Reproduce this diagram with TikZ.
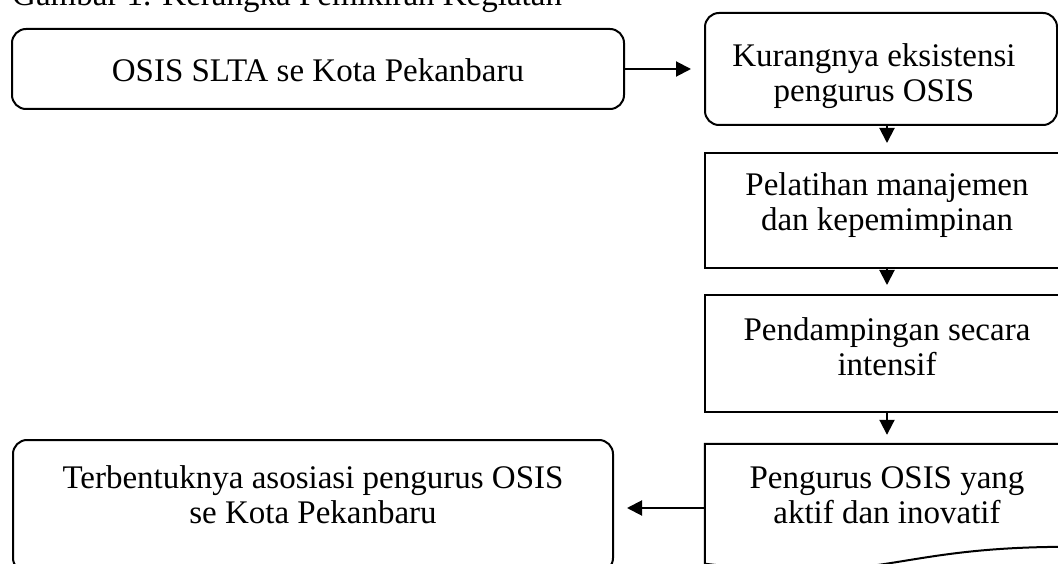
\documentclass[tikz,border=0pt]{standalone}
\usepackage{fontspec}
\setmainfont{Liberation Serif}
\usetikzlibrary{positioning,arrows.meta,calc}
\tikzset{
  panel/.style  = {rectangle, draw=black, line width=2pt, inner sep=0pt},
  rpanel/.style = {panel, rounded corners=14pt},
  txt/.style    = {inner sep=0pt, align=center},
  flow/.style   = {-{Triangle[length=15pt,width=15pt]}, line width=2pt, shorten >=#1},
  flow/.default = 9pt,
}

\begin{document}
\begin{tikzpicture}[x=1pt, y=-1pt, font=\fontsize{33}{35}\selectfont]
  \useasboundingbox (0,0) rectangle (1058,564);
  \clip (0,0) rectangle (1058,564);
  \node[txt, anchor=base west] (judul) at (12,6) {Gambar 1. Kerangka Pemikiran Kegiatan};

  % boxes
  \node[rpanel, minimum width=612pt, minimum height=80pt] (osis) at (318,69) {};
  \node[rpanel, minimum width=352pt, minimum height=112pt] (kurang) at (881,69) {};
  \node[panel, minimum width=364pt, minimum height=115pt] (latih) at (887,210.5) {};
  \node[panel, minimum width=364pt, minimum height=117pt] (damping) at (887,353.5) {};
  \node[inner sep=0pt, minimum width=364pt, minimum height=128pt] (aktif) at (887,508) {};
  \draw[line width=2pt] (aktif.north west) -- (aktif.north east) -- ([yshift=25.4pt]aktif.south east)
    .. controls ([yshift=25.4pt]aktif.south) and ([yshift=-13.8pt]aktif.south) .. ([yshift=8.5pt]aktif.south west) -- cycle;
  \node[rpanel, minimum width=600pt, minimum height=132pt] (asosiasi) at (313,506) {};

  % texts
  \node[txt, below=30.5pt of osis.north] (osis-t) {OSIS SLTA se Kota Pekanbaru};
  \node[txt, below=31pt of kurang.north, xshift=-7pt] (kurang-t) {Kurangnya eksistensi\\pengurus OSIS};
  \node[txt, below=20.5pt of latih.north] (latih-t) {Pelatihan manajemen\\dan kepemimpinan};
  \node[txt, below=23.5pt of damping.north] (damping-t) {Pendampingan secara\\intensif};
  \node[txt, below=22.5pt of aktif.north] (aktif-t) {Pengurus OSIS yang\\aktif dan inovatif};
  \node[txt, below=26.5pt of asosiasi.north] (asosiasi-t) {Terbentuknya asosiasi pengurus OSIS\\se Kota Pekanbaru};

  % flow
  \draw[flow=13pt] (osis.east) -- (kurang.west);
  \draw[flow] (latih.north |- kurang.south) -- (latih.north);
  \draw[flow] (latih) -- (damping);
  \draw[flow] (damping) -- (aktif.north);
  \draw[flow=13pt] (aktif.west) -- (aktif.west -| asosiasi.east);
\end{tikzpicture}
\end{document}
